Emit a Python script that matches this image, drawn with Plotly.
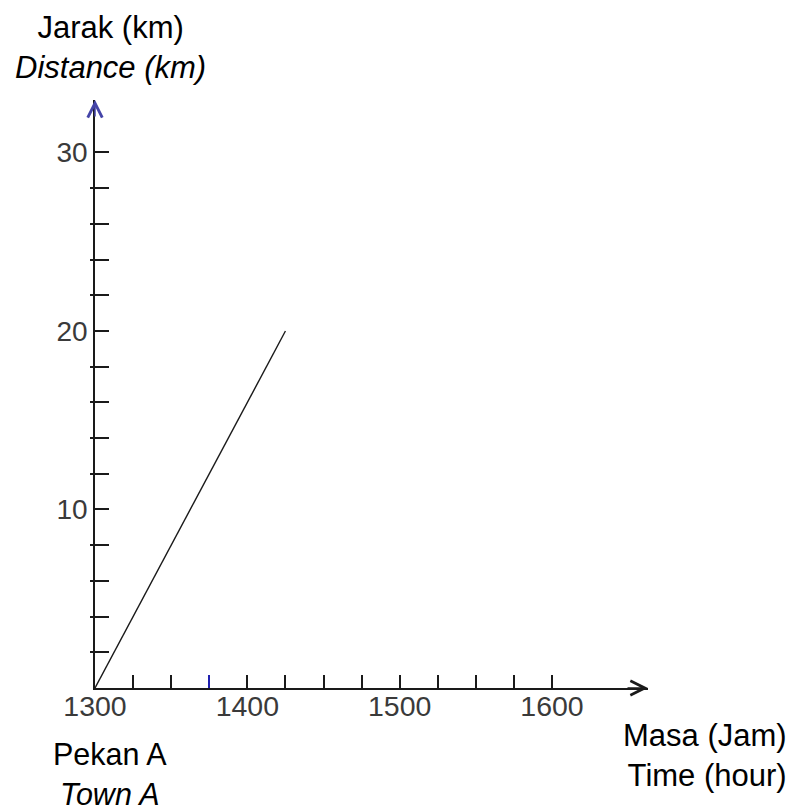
import plotly.graph_objects as go

# Data
time_hours = [13.0, 14.25]          # 1300 -> 1415
distance_km = [0, 20]

x_tick_values = [13, 14, 15, 16]
x_tick_labels = ["1300", "1400", "1500", "1600"]
x_minor_values = [13.25, 13.5, 14.25, 14.5, 14.75, 15.25, 15.5, 15.75]
x_blue_tick = [13.75]

y_tick_values = [10, 20, 30]
y_tick_labels = ["10", "20", "30"]
y_minor_values = [2, 4, 6, 8, 12, 14, 16, 18, 22, 24, 26, 28]

X_MAX = 16.63
Y_MAX = 32.94

FONT = "Liberation Sans, Arial, sans-serif"
TICK_COLOR = "#3a3a3a"

fig = go.Figure()
fig.add_trace(go.Scatter(x=time_hours, y=distance_km, mode="lines",
                         line=dict(color="#1a1a1a", width=1.4),
                         showlegend=False, hoverinfo="skip"))
# invisible helper traces so overlay axes are drawn
fig.add_trace(go.Scatter(x=[], y=[], xaxis="x2", yaxis="y", showlegend=False))
fig.add_trace(go.Scatter(x=[], y=[], xaxis="x", yaxis="y2", showlegend=False))

all_x_ticks = sorted(x_tick_values + x_minor_values)
all_x_text = [x_tick_labels[x_tick_values.index(v)] if v in x_tick_values else "" for v in all_x_ticks]
all_y_ticks = sorted(y_tick_values + y_minor_values)
all_y_text = [y_tick_labels[y_tick_values.index(v)] if v in y_tick_values else "" for v in all_y_ticks]

fig.update_layout(
    width=787, height=803, autosize=False,
    margin=dict(l=87, r=147, t=92, b=123, pad=0),
    plot_bgcolor="white", paper_bgcolor="white",
    xaxis=dict(range=[13, X_MAX], showgrid=False, zeroline=False,
               showline=True, linecolor="#1a1a1a", linewidth=1.7,
               tickmode="array", tickvals=all_x_ticks, ticktext=all_x_text,
               ticks="inside", ticklen=13, tickwidth=1.5, tickcolor="#1a1a1a",
               tickfont=dict(family=FONT, size=28.5, color=TICK_COLOR),
               ticklabelstandoff=-8),
    xaxis2=dict(range=[13, X_MAX], overlaying="x", anchor="y", side="bottom",
                showgrid=False, zeroline=False, showline=False,
                tickmode="array", tickvals=x_blue_tick, ticktext=[""],
                ticks="inside", ticklen=13, tickwidth=1.5, tickcolor="#2020b0",
                showticklabels=False),
    yaxis=dict(range=[0, Y_MAX], showgrid=False, zeroline=False,
               showline=True, linecolor="#1a1a1a", linewidth=1.7,
               tickmode="array", tickvals=all_y_ticks, ticktext=all_y_text,
               ticks="inside", ticklen=14, tickwidth=1.5, tickcolor="#1a1a1a",
               tickfont=dict(family=FONT, size=28, color=TICK_COLOR),
               ticklabelstandoff=0),
    yaxis2=dict(range=[0, Y_MAX], overlaying="y", anchor="x", side="left",
                showgrid=False, zeroline=False, showline=False,
                tickmode="array", tickvals=y_minor_values,
                ticktext=[""] * len(y_minor_values),
                ticks="outside", ticklen=4, tickwidth=1.5, tickcolor="#1a1a1a",
                showticklabels=False),
    showlegend=False,
)

# axis arrowheads
fig.add_annotation(x=1, y=0, xref="paper", yref="paper", text="",
                   showarrow=True, arrowhead=5, arrowsize=1.9, arrowwidth=1.5,
                   arrowcolor="#1a1a1a", ax=-22, ay=0)
fig.add_annotation(x=0, y=1, xref="paper", yref="paper", text="",
                   showarrow=True, arrowhead=5, arrowsize=1.9, arrowwidth=1.5,
                   arrowcolor="#4444a8", ax=0, ay=18)

# text labels
fig.add_annotation(x=(110 - 95) / 553, y=(688 - 47) / 588, xref="paper", yref="paper",
                   text="Jarak (km)<br><i>Distance (km)</i>", showarrow=False,
                   xanchor="center", yanchor="middle", align="center",
                   font=dict(family=FONT, size=31, color="black"))
fig.add_annotation(x=(110 - 95) / 553, y=(688 - 774) / 588, xref="paper", yref="paper",
                   text="Pekan A<br><i>Town A</i>", showarrow=False,
                   xanchor="center", yanchor="middle", align="center",
                   font=dict(family=FONT, size=30.5, color="black"))
fig.add_annotation(x=(789 - 95) / 553, y=(688 - 755) / 588, xref="paper", yref="paper",
                   text="Masa (Jam)<br>Time (hour)", showarrow=False,
                   xanchor="right", yanchor="middle", align="right",
                   font=dict(family=FONT, size=31, color="black"))

fig.write_html("out.html")
